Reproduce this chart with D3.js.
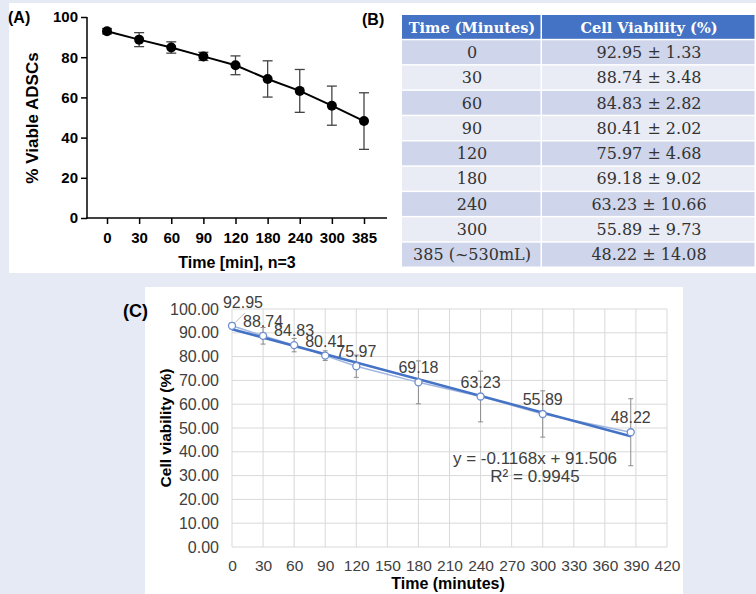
<!DOCTYPE html>
<html>
<head>
<meta charset="utf-8">
<script src="https://cdn.jsdelivr.net/npm/d3@7"></script>
<style>
  body { margin: 0; background: #e6eaf5; }
  svg { display: block; }
</style>
</head>
<body>
<svg id="chart" width="756" height="594"></svg>
<script>
// values
const times = [0, 30, 60, 90, 120, 180, 240, 300, 385];
const timeLabels = ["0", "30", "60", "90", "120", "180", "240", "300", "385 (~530mL)"];
const viability = [92.95, 88.74, 84.83, 80.41, 75.97, 69.18, 63.23, 55.89, 48.22];
const sdev = [1.33, 3.48, 2.82, 2.02, 4.68, 9.02, 10.66, 9.73, 14.08];
const trendSlope = -0.1168;
const trendIntercept = 91.506;
const rSquared = 0.9945;
const yTicksA = [0, 20, 40, 60, 80, 100];
const yTicksC = [0, 10, 20, 30, 40, 50, 60, 70, 80, 90, 100];
const xTicksC = [0, 30, 60, 90, 120, 150, 180, 210, 240, 270, 300, 330, 360, 390, 420];

const data = times.map((t, i) => ({t: t, label: timeLabels[i], v: viability[i], sd: sdev[i]}));

const svg = d3.select("#chart");
const sans = "'Liberation Sans', Arial, sans-serif";
const serif = "'DejaVu Serif', 'Liberation Serif', serif";

// panel backgrounds
svg.append("rect").attr("x", 9).attr("y", 3).attr("width", 747).attr("height", 270).attr("fill", "#fff");
svg.append("rect").attr("x", 145).attr("y", 287).attr("width", 538).attr("height", 310).attr("fill", "#fff");

// ---------- (A) GraphPad style plot ----------
const gA = svg.append("g");
const xA = d3.scalePoint().domain(times.map(String)).range([107, 364]);
const yA = d3.scaleLinear().domain([0, 100]).range([218, 17]);

gA.append("text").attr("x", 8).attr("y", 23).text("(A)")
  .attr("font-family", sans).attr("font-weight", "bold").attr("font-size", 16);

const axA = gA.append("g").attr("transform", "translate(87,0)")
  .call(d3.axisLeft(yA).tickValues(yTicksA).tickSize(6).tickPadding(3));
axA.select(".domain").remove();
axA.selectAll("line").attr("stroke", "#000").attr("stroke-width", 1.5);
axA.selectAll("text").attr("font-family", sans).attr("font-weight", "bold").attr("font-size", 15).attr("fill", "#000");
gA.append("line").attr("x1", 87).attr("x2", 87).attr("y1", yA(100)).attr("y2", yA(0) + 0.75)
  .attr("stroke", "#000").attr("stroke-width", 1.5);

const axAx = gA.append("g").attr("transform", "translate(0,218)")
  .call(d3.axisBottom(xA).tickSize(6).tickPadding(8));
axAx.select(".domain").remove();
axAx.selectAll("line").attr("stroke", "#000").attr("stroke-width", 1.5);
axAx.selectAll("text").attr("font-family", sans).attr("font-weight", "bold").attr("font-size", 15).attr("fill", "#000");
gA.append("line").attr("x1", 86.25).attr("x2", 387).attr("y1", 218).attr("y2", 218)
  .attr("stroke", "#000").attr("stroke-width", 1.5);

gA.append("text").attr("x", 237).attr("y", 268).attr("text-anchor", "middle")
  .attr("font-family", sans).attr("font-weight", "bold").attr("font-size", 16).text("Time [min], n=3");
gA.append("text").attr("transform", "translate(38,118) rotate(-90)").attr("text-anchor", "middle")
  .attr("font-family", sans).attr("font-weight", "bold").attr("font-size", 17).text("% Viable ADSCs");

// error bars A
const ebA = gA.selectAll(".ebA").data(data).join("g").attr("stroke", "#444").attr("stroke-width", 1.3);
ebA.append("line").attr("x1", d => xA(String(d.t))).attr("x2", d => xA(String(d.t)))
  .attr("y1", d => yA(d.v + d.sd)).attr("y2", d => yA(d.v - d.sd));
ebA.append("line").attr("x1", d => xA(String(d.t)) - 5).attr("x2", d => xA(String(d.t)) + 5)
  .attr("y1", d => yA(d.v + d.sd)).attr("y2", d => yA(d.v + d.sd));
ebA.append("line").attr("x1", d => xA(String(d.t)) - 5).attr("x2", d => xA(String(d.t)) + 5)
  .attr("y1", d => yA(d.v - d.sd)).attr("y2", d => yA(d.v - d.sd));

gA.append("path").datum(data)
  .attr("d", d3.line().x(d => xA(String(d.t))).y(d => yA(d.v)))
  .attr("fill", "none").attr("stroke", "#000").attr("stroke-width", 2);
gA.selectAll(".ptA").data(data).join("circle")
  .attr("cx", d => xA(String(d.t))).attr("cy", d => yA(d.v)).attr("r", 5).attr("fill", "#000");

// ---------- (B) table ----------
const gB = svg.append("g");
gB.append("text").attr("x", 362).attr("y", 25).text("(B)")
  .attr("font-family", sans).attr("font-weight", "bold").attr("font-size", 16);

const colX = [402, 542, 756];
const rowY = d3.scaleLinear().domain([0, 10]).range([15, 268]);
const headers = ["Time (Minutes)", "Cell Viability (%)"];
headers.forEach((h, i) => {
  gB.append("rect").attr("x", colX[i]).attr("y", rowY(0)).attr("width", colX[i + 1] - colX[i] - 1.5)
    .attr("height", rowY(1) - rowY(0) - 1.5).attr("fill", "#4472c4");
  gB.append("text").attr("x", (colX[i] + colX[i + 1]) / 2).attr("y", rowY(0.5) + 5)
    .attr("text-anchor", "middle").attr("fill", "#fff").attr("font-weight", "bold")
    .attr("font-family", serif).attr("font-size", 14.5).text(h);
});
data.forEach((d, r) => {
  const fill = r % 2 === 0 ? "#cfd5ea" : "#e9ebf5";
  const cells = [d.label, d3.format(".2f")(d.v) + " \u00b1 " + d3.format(".2f")(d.sd)];
  cells.forEach((c, i) => {
    gB.append("rect").attr("x", colX[i]).attr("y", rowY(r + 1)).attr("width", colX[i + 1] - colX[i] - 1.5)
      .attr("height", rowY(r + 2) - rowY(r + 1) - 1.5).attr("fill", fill);
    gB.append("text").attr("x", (colX[i] + colX[i + 1]) / 2).attr("y", rowY(r + 1.5) + 5)
      .attr("text-anchor", "middle").attr("fill", "#333")
      .attr("font-family", serif).attr("font-size", 16).text(c);
  });
});

// ---------- (C) Excel style plot ----------
const gC = svg.append("g");
const xC = d3.scaleLinear().domain([0, 420]).range([232, 667]);
const yC = d3.scaleLinear().domain([0, 100]).range([547, 309]);

gC.append("text").attr("x", 123).attr("y", 317).text("(C)")
  .attr("font-family", sans).attr("font-weight", "bold").attr("font-size", 18);

gC.selectAll(".gx").data(xTicksC).join("line")
  .attr("x1", d => xC(d)).attr("x2", d => xC(d)).attr("y1", yC(100)).attr("y2", yC(0))
  .attr("stroke", "#d9d9d9").attr("stroke-width", 1);
gC.selectAll(".gy").data(yTicksC).join("line")
  .attr("x1", xC(0)).attr("x2", xC(420)).attr("y1", d => yC(d)).attr("y2", d => yC(d))
  .attr("stroke", "#d9d9d9").attr("stroke-width", 1);

const axCy = gC.append("g").attr("transform", "translate(" + xC(0) + ",0)")
  .call(d3.axisLeft(yC).tickValues(yTicksC).tickFormat(d3.format(".2f")).tickSize(0).tickPadding(13));
axCy.select(".domain").remove();
axCy.selectAll("text").attr("font-family", sans).attr("font-size", 16).attr("fill", "#404040");

const axCx = gC.append("g").attr("transform", "translate(0," + yC(0) + ")")
  .call(d3.axisBottom(xC).tickValues(xTicksC).tickSize(0).tickPadding(13));
axCx.select(".domain").remove();
axCx.selectAll("text").attr("font-family", sans).attr("font-size", 15.5).attr("fill", "#404040");

gC.append("text").attr("x", 448).attr("y", 589).attr("text-anchor", "middle")
  .attr("font-family", sans).attr("font-weight", "bold").attr("font-size", 16).attr("fill", "#000").text("Time (minutes)");
gC.append("text").attr("transform", "translate(171,428) rotate(-90)").attr("text-anchor", "middle")
  .attr("font-family", sans).attr("font-weight", "bold").attr("font-size", 15.5).attr("fill", "#000").text("Cell viability (%)");

// error bars C
const ebC = gC.selectAll(".ebC").data(data).join("g").attr("stroke", "#8c8c8c").attr("stroke-width", 1);
ebC.append("line").attr("x1", d => xC(d.t)).attr("x2", d => xC(d.t))
  .attr("y1", d => yC(d.v + d.sd)).attr("y2", d => yC(d.v - d.sd));
ebC.append("line").attr("x1", d => xC(d.t) - 2.5).attr("x2", d => xC(d.t) + 2.5)
  .attr("y1", d => yC(d.v + d.sd)).attr("y2", d => yC(d.v + d.sd));
ebC.append("line").attr("x1", d => xC(d.t) - 2.5).attr("x2", d => xC(d.t) + 2.5)
  .attr("y1", d => yC(d.v - d.sd)).attr("y2", d => yC(d.v - d.sd));

// data line
gC.append("path").datum(data)
  .attr("d", d3.line().x(d => xC(d.t)).y(d => yC(d.v)))
  .attr("fill", "none").attr("stroke", "#9fb6e0").attr("stroke-width", 1.5);

// linear trendline
const tEnd = d3.max(times);
gC.append("line")
  .attr("x1", xC(0)).attr("y1", yC(trendIntercept))
  .attr("x2", xC(tEnd)).attr("y2", yC(trendIntercept + trendSlope * tEnd))
  .attr("stroke", "#4472c4").attr("stroke-width", 2.5);

gC.selectAll(".ptC").data(data).join("circle")
  .attr("cx", d => xC(d.t)).attr("cy", d => yC(d.v)).attr("r", 3.5)
  .attr("fill", "#fff").attr("stroke", "#6f8fd0").attr("stroke-width", 1.3);

// data labels (first one is pulled out with a leader line)
gC.append("line").attr("x1", xC(0) + 3).attr("y1", yC(viability[0]) - 3)
  .attr("x2", xC(0) + 13).attr("y2", yC(viability[0]) - 13)
  .attr("stroke", "#bfbfbf").attr("stroke-width", 1);
gC.selectAll(".lbl").data(data).join("text")
  .attr("x", (d, i) => xC(d.t) + (i === 0 ? 11 : 0))
  .attr("y", (d, i) => yC(d.v) - (i === 0 ? 18 : 9))
  .attr("text-anchor", "middle").attr("font-family", sans).attr("font-size", 16).attr("fill", "#404040")
  .text(d => d3.format(".2f")(d.v));

gC.append("text").attr("x", 535).attr("y", 464).attr("text-anchor", "middle")
  .attr("font-family", sans).attr("font-size", 17).attr("fill", "#404040")
  .text("y = " + trendSlope + "x + " + trendIntercept);
gC.append("text").attr("x", 535).attr("y", 482).attr("text-anchor", "middle")
  .attr("font-family", sans).attr("font-size", 17).attr("fill", "#404040")
  .text("R\u00b2 = " + rSquared);
</script>
</body>
</html>
